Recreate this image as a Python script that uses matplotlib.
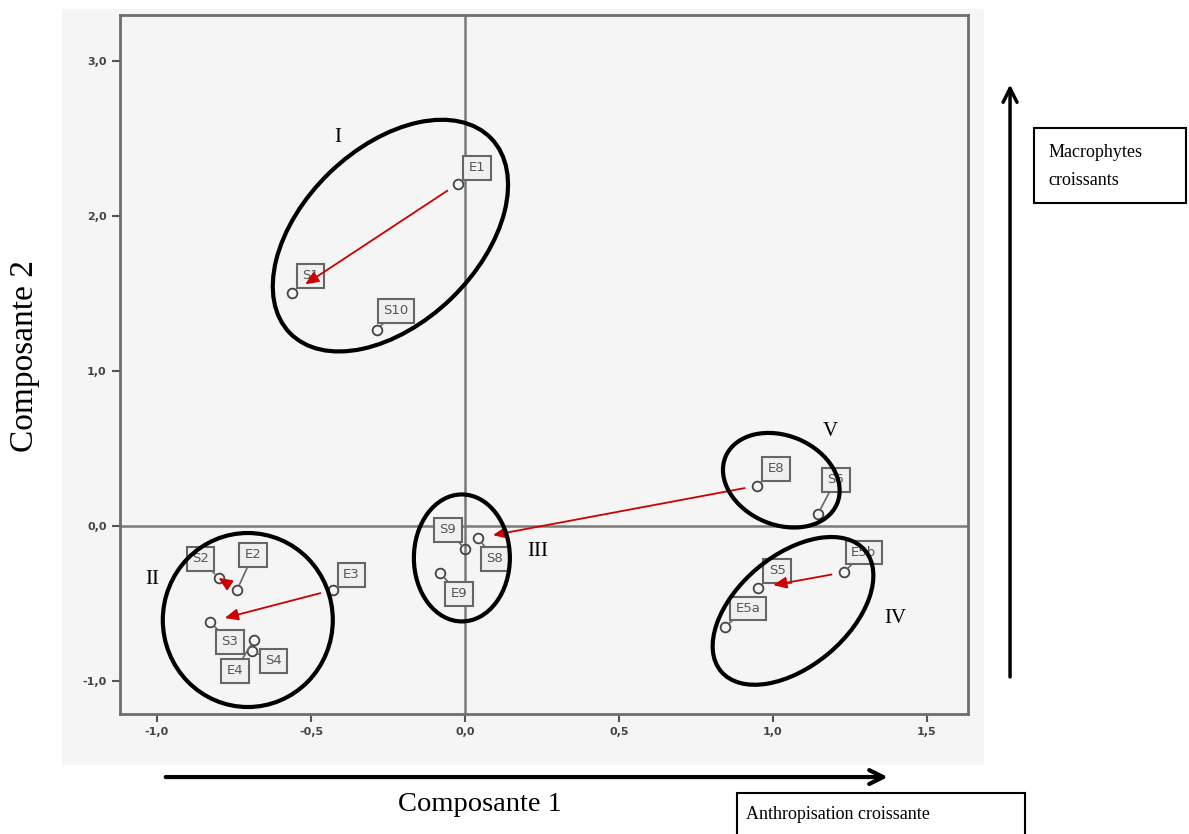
import matplotlib
matplotlib.use("Agg")
import matplotlib.pyplot as plt
from matplotlib.patches import Ellipse, Rectangle, FancyArrowPatch
from matplotlib.transforms import ScaledTranslation
from matplotlib.ticker import FuncFormatter

# stations (component scores)
names = ["E1", "S1", "S10", "S2", "E2", "E3", "S3", "E4", "S4",
         "S9", "S8", "E9", "E8", "S6", "E5b", "S5", "E5a"]
comp1 = [-0.023, -0.56, -0.286, -0.80, -0.74, -0.43, -0.828, -0.685, -0.692,
         0.0, 0.042, -0.081, 0.948, 1.146, 1.23, 0.952, 0.844]
comp2 = [2.21, 1.506, 1.267, -0.336, -0.414, -0.414, -0.62, -0.737, -0.808,
         -0.149, -0.078, -0.304, 0.259, 0.078, -0.30, -0.40, -0.65]

# upstream -> downstream arrows
arrows = [("E1", "S1"), ("E2", "S2"), ("E3", "S3"), ("E8", "S8"), ("E5b", "S5")]

# groups: label, centre (comp1, comp2)
group_labels = ["I", "II", "III", "IV", "V"]
group_cx = [-0.242, -0.705, -0.01, 1.065, 1.027]
group_cy = [1.875, -0.608, -0.207, -0.549, 0.295]

xticks = [-1.0, -0.5, 0.0, 0.5, 1.0, 1.5]
yticks = [-1.0, 0.0, 1.0, 2.0, 3.0]

# --- styling / layout ---
# label offsets in pixels (dx, dy, y up)
label_off = {"E1": (19, 16), "S1": (18, 17), "S10": (19, 19), "S2": (-18, 19),
             "E2": (16, 35), "E3": (19, 15), "S3": (20, -20), "E4": (-19, -31),
             "S4": (22, -10), "S9": (-17, 19), "S8": (17, -21), "E9": (19, -21),
             "E8": (19, 17), "S6": (18, 34), "E5b": (20, 20), "S5": (19, 17),
             "E5a": (23, 18)}
# ellipse sizes in inches (width, height, angle)
ell_shape = [(2.80, 1.75, 44), (1.70, 1.74, 0), (0.96, 1.27, 0), (1.88, 1.11, 40), (1.21, 0.89, -23)]
# roman numeral positions (data)
roman_xy = [(-0.412, 2.508), (-1.016, -0.349), (0.237, -0.168), (1.396, -0.600), (1.185, 0.608)]

serif = "Liberation Serif"
bg = "#f5f5f5"

fig = plt.figure(figsize=(11.89, 8.34), dpi=100)
fig.patch.set_facecolor("white")
fig.add_artist(Rectangle((0.052, 0.0827), 0.776, 0.907, transform=fig.transFigure,
                         facecolor=bg, edgecolor="none", zorder=0))

ax = fig.add_axes([0.1009, 0.1439, 0.7132, 0.8381])
ax.set_facecolor(bg)
ax.set_xlim(-1.12, 1.633)
ax.set_ylim(-1.215, 3.30)
ax.set_xticks(xticks)
ax.set_yticks(yticks)
fmt = FuncFormatter(lambda v, p: f"{v:.1f}".replace(".", ","))
ax.xaxis.set_major_formatter(fmt)
ax.yaxis.set_major_formatter(fmt)
ax.tick_params(length=6, width=1.5, color="#555555", labelsize=8, labelcolor="#444444")
for lbl in ax.get_xticklabels() + ax.get_yticklabels():
    lbl.set_fontweight("bold")
for sp in ax.spines.values():
    sp.set_color("#6e6e6e")
    sp.set_linewidth(2)

ax.axhline(0, color="#7a7a7a", lw=1.8, zorder=1)
ax.axvline(0, color="#7a7a7a", lw=1.8, zorder=1)

ax.plot(comp1, comp2, "o", ms=7, mfc="none", mec="#444444", mew=1.3, zorder=3)

for n, x, y in zip(names, comp1, comp2):
    dx, dy = label_off[n]
    ax.annotate(n, (x, y), xytext=(dx, dy), textcoords="offset pixels",
                ha="center", va="center", fontsize=9.5, color="#555555",
                bbox=dict(boxstyle="square,pad=0.4", fc="#f0f0f0", ec="#666666", lw=1.5),
                arrowprops=dict(arrowstyle="-", color="#666666", lw=1.2, shrinkA=0, shrinkB=4),
                zorder=4)

pos = {n: (x, y) for n, x, y in zip(names, comp1, comp2)}
for a, b in arrows:
    ax.annotate("", xy=pos[b], xytext=pos[a],
                arrowprops=dict(arrowstyle="-|>,head_length=0.8,head_width=0.35",
                                color="#cc0000", lw=1.3, shrinkA=9, shrinkB=11),
                zorder=5)

for (w, h, ang), cx, cy in zip(ell_shape, group_cx, group_cy):
    tr = fig.dpi_scale_trans + ScaledTranslation(cx, cy, ax.transData)
    ax.add_patch(Ellipse((0, 0), w, h, angle=ang, transform=tr, fill=False,
                         ec="black", lw=3, zorder=6))

for lab, (x, y) in zip(group_labels, roman_xy):
    ax.text(x, y, lab, fontsize=15, family=serif, ha="center", va="center", zorder=6)

fig.text(0.021, 0.573, "Composante 2", fontsize=24, family=serif, rotation=90,
         ha="center", va="center")
fig.text(0.404, 0.035, "Composante 1", fontsize=20.5, family=serif, ha="center", va="center")

# direction arrows
fig.add_artist(FancyArrowPatch((0.137, 0.0683), (0.749, 0.0683), transform=fig.transFigure,
                               arrowstyle="->,head_length=10,head_width=5", lw=3, color="black"))
fig.add_artist(FancyArrowPatch((0.8495, 0.185), (0.8495, 0.902), transform=fig.transFigure,
                               arrowstyle="->,head_length=10,head_width=5", lw=2.5, color="black"))

fig.add_artist(Rectangle((0.8697, 0.7566), 0.128, 0.09, transform=fig.transFigure,
                         facecolor="white", edgecolor="black", lw=1.5))
fig.text(0.882, 0.817, "Macrophytes", fontsize=13, family=serif, va="center")
fig.text(0.882, 0.783, "croissants", fontsize=13, family=serif, va="center")

fig.add_artist(Rectangle((0.6199, -0.01), 0.2421, 0.059, transform=fig.transFigure,
                         facecolor="white", edgecolor="black", lw=1.5))
fig.text(0.627, 0.0228, "Anthropisation croissante", fontsize=13, family=serif, va="center")

fig.savefig("out.png", dpi=100)
